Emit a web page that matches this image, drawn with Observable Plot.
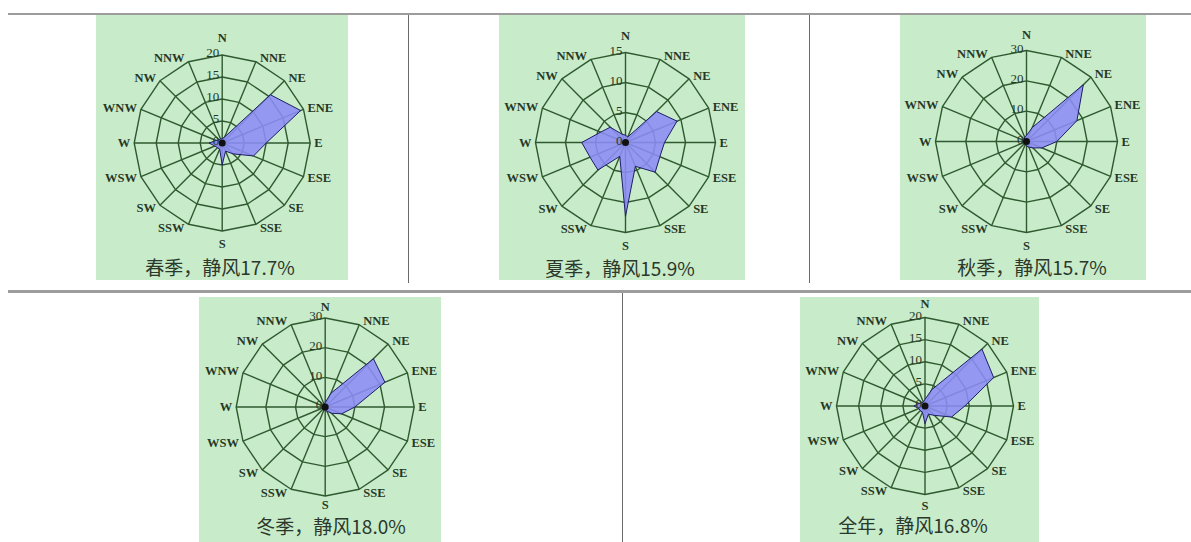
<!DOCTYPE html>
<html><head><meta charset="utf-8">
<script src="https://cdn.jsdelivr.net/npm/d3@7"></script>
<script src="https://cdn.jsdelivr.net/npm/@observablehq/plot@0.6"></script>
<style>
body{margin:0;background:#fff;width:1191px;height:542px;overflow:hidden;position:relative}
.ln{position:absolute}
.panel{position:absolute;background:#c8ebca;overflow:hidden}
.panel svg{position:absolute;left:0;top:0}
.cap{position:absolute;font-family:"Noto Sans CJK SC",sans-serif;font-size:19px;line-height:19px;color:#2b382b;white-space:nowrap;transform:translate(-50%,-50%)}
</style></head><body>
<script>
// ---- data ----
const directions = ["N","NNE","NE","ENE","E","ESE","SE","SSE","S","SSW","SW","WSW","W","WNW","NW","NNW"];
const springValues = [1, 1.5, 15.5, 19.3, 10, 7.7, 3.5, 2, 5, 1.5, 1.5, 1.8, 3, 1.5, 1, 1];
const summerValues = [1.2, 1, 7.3, 9.3, 6.5, 6.2, 7, 4.3, 12.3, 2.5, 6.5, 6.4, 7.3, 4.5, 3.6, 1.5];
const autumnValues = [2, 5, 26.5, 18, 10, 5.5, 3, 2, 1.5, 1, 1, 1, 1.5, 1, 1, 1.5];
const winterValues = [1.5, 5, 23, 21.8, 10, 6, 3, 1.5, 1, 1, 1, 1, 1, 1, 1, 1];
const annualValues = [1.5, 4, 18.2, 16.8, 9, 6.5, 3, 2, 4, 1.5, 1.5, 1.5, 2.5, 1.5, 1, 1];
const ticks20 = [0, 5, 10, 15, 20];
const ticks15 = [0, 5, 10, 15];
const ticks30 = [0, 10, 20, 30];
const captions = ["春季，静风17.7%", "夏季，静风15.9%", "秋季，静风15.7%", "冬季，静风18.0%", "全年，静风16.8%"];

// ---- layout (pixels) ----
const layout = [
  {values: springValues, ticks: ticks20, cap: captions[0], left: 96,  top: 15,  w: 252, h: 265, cx: 125.7, cy: 127.5, R: 88,   capX: 124, capY: 251, gapN: 17, gapS: 13},
  {values: summerValues, ticks: ticks15, cap: captions[1], left: 499, top: 15,  w: 246, h: 265, cx: 126,   cy: 127,   R: 90,   capX: 121, capY: 252, gapN: 17, gapS: 13},
  {values: autumnValues, ticks: ticks30, cap: captions[2], left: 900, top: 15,  w: 246, h: 265, cx: 126,   cy: 126,   R: 91,   capX: 132, capY: 251, gapN: 16, gapS: 13},
  {values: winterValues, ticks: ticks30, cap: captions[3], left: 199, top: 297, w: 242, h: 245, cx: 125.7, cy: 109.5, R: 89,   capX: 132, capY: 228, gapN: 11, gapS: 9},
  {values: annualValues, ticks: ticks20, cap: captions[4], left: 800, top: 297, w: 239, h: 245, cx: 124.5, cy: 108.5, R: 88.5, capX: 113, capY: 227, gapN: 14, gapS: 11}
];

const lines = [
  {x: 8, y: 12.5, w: 1183, h: 2.5, c: "#9c9c9c"},
  {x: 408, y: 15, w: 1.2, h: 268, c: "#6a6a6a"},
  {x: 809, y: 15, w: 1.2, h: 268, c: "#6a6a6a"},
  {x: 8, y: 289.5, w: 1183, h: 3, c: "#9c9c9c"},
  {x: 622, y: 293, w: 1.2, h: 249, c: "#6a6a6a"}
];
for (const l of lines) {
  const d = document.createElement("div");
  d.className = "ln";
  Object.assign(d.style, {left: l.x + "px", top: l.y + "px", width: l.w + "px", height: l.h + "px", background: l.c});
  document.body.appendChild(d);
}

const grid = "#2f5a30";
const textColor = "#263826";

function rose(L) {
  const max = d3.max(L.ticks);
  const k = L.R / max;
  const ang = i => Math.PI / 2 - i * Math.PI / 8;
  const pt = (i, v) => ({x: v * Math.cos(ang(i)), y: v * Math.sin(ang(i))});
  const rings = L.ticks.filter(t => t > 0).flatMap(t => directions.map((d, i) => ({ring: t, ...pt(i, t)})));
  const spokes = directions.map((d, i) => { const p = pt(i, max); return {x2: p.x, y2: p.y}; });
  const poly = directions.map((d, i) => pt(i, L.values[i]));
  const labels = directions.map((d, i) => {
    const c = Math.cos(ang(i)), s = Math.sin(ang(i));
    if (Math.abs(c) < 0.01) return {text: d, anchor: "middle", x: 0, y: s * (max + (s > 0 ? L.gapN : L.gapS) / k)};
    return {text: d, anchor: c > 0 ? "start" : "end", x: c * max + Math.sign(c) * 4 / k, y: s * max + s * 4 / k};
  });
  const tickLabels = L.ticks.map(t => ({text: String(t), x: -3 / k, y: t + 2 / k}));
  const font = {fontFamily: "Liberation Serif", fontSize: 12.5, fill: textColor, fontWeight: "bold"};
  const textMarks = ["start", "middle", "end"].map(a =>
    Plot.text(labels.filter(l => l.anchor === a), {x: "x", y: "y", text: "text", textAnchor: a, ...font}));
  const svgH = L.h;
  return Plot.plot({
    width: L.w, height: svgH, margin: 0,
    style: {background: "none", overflow: "visible"},
    x: {domain: [-L.cx / k, (L.w - L.cx) / k], axis: null},
    y: {domain: [-(svgH - L.cy) / k, L.cy / k], axis: null},
    marks: [
      Plot.line(rings, {x: "x", y: "y", z: "ring", stroke: grid, strokeWidth: 1.4, curve: "linear-closed"}),
      Plot.link(spokes, {x1: 0, y1: 0, x2: "x2", y2: "y2", stroke: grid, strokeWidth: 1.4}),
      Plot.line(poly, {x: "x", y: "y", curve: "linear-closed", fill: "#8c8cf6", fillOpacity: 0.88, stroke: "#1e1e66", strokeWidth: 1}),
      Plot.dot([{x: 0, y: 0}], {x: "x", y: "y", r: 3.5, fill: "#111"}),
      ...textMarks,
      Plot.text(tickLabels, {x: "x", y: "y", text: "text", textAnchor: "end", ...font, fontWeight: "normal", fontSize: 13})
    ]
  });
}

for (const L of layout) {
  const p = document.createElement("div");
  p.className = "panel";
  Object.assign(p.style, {left: L.left + "px", top: L.top + "px", width: L.w + "px", height: L.h + "px"});
  p.appendChild(rose(L));
  const c = document.createElement("div");
  c.className = "cap";
  c.textContent = L.cap;
  Object.assign(c.style, {left: L.capX + "px", top: L.capY + "px"});
  p.appendChild(c);
  document.body.appendChild(p);
}
</script>
</body></html>
